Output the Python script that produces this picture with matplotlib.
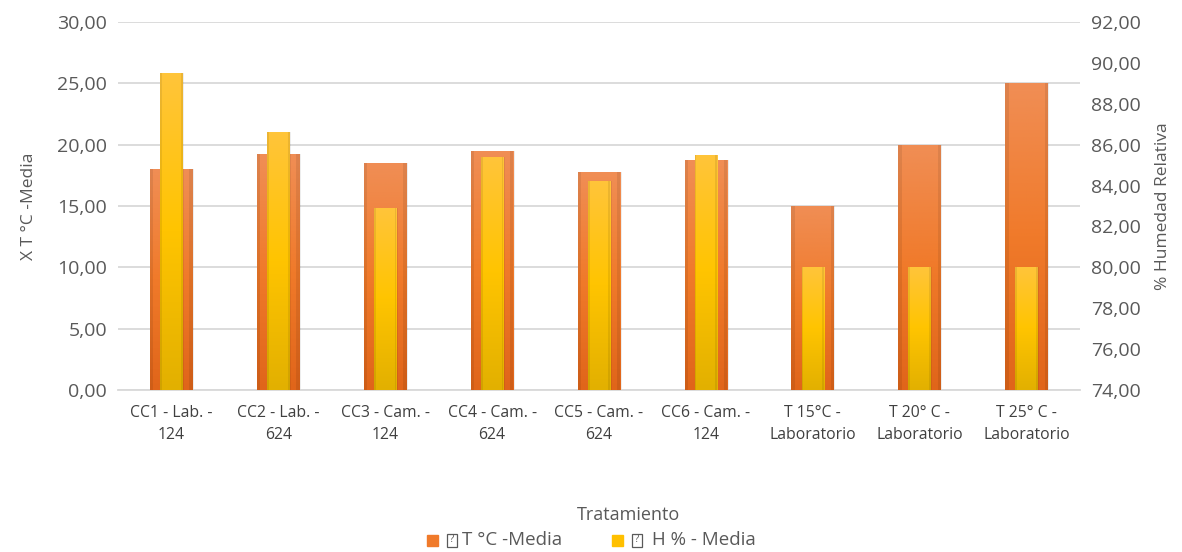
import numpy as np
import matplotlib.pyplot as plt
from matplotlib.colors import LinearSegmentedColormap
from matplotlib.ticker import FuncFormatter

plt.rcParams['font.family'] = ['Open Sans', 'DejaVu Sans']

categorias = ["CC1 - Lab. -\n124", "CC2 - Lab. -\n624", "CC3 - Cam. -\n124",
              "CC4 - Cam. -\n624", "CC5 - Cam. -\n624", "CC6 - Cam. -\n124",
              "T 15°C -\nLaboratorio", "T 20° C -\nLaboratorio", "T 25° C -\nLaboratorio"]
temp_media = [18.0, 19.2, 18.5, 19.5, 17.8, 18.75, 15.0, 20.0, 25.0]
hum_media = [89.5, 86.6, 82.9, 85.4, 84.2, 85.5, 80.0, 80.0, 80.0]

gris = '#595959'
naranja = LinearSegmentedColormap.from_list('nar', ['#E0651A', '#F07A2A', '#F08E55'])
amarillo = LinearSegmentedColormap.from_list('ama', ['#E2B000', '#FFC400', '#FFC53A'])


def barras_degradado(ax, x, alturas, base, ancho, cmap, z):
    bars = ax.bar(x, np.array(alturas) - base, width=ancho, bottom=base,
                  color='none', edgecolor='none', linewidth=0, zorder=z)
    grad = np.linspace(0, 1, 256).reshape(-1, 1)
    for b in bars:
        x0, y0 = b.get_x(), b.get_y()
        w, h = b.get_width(), b.get_height()
        # sombra suave a la derecha
        ax.bar(x0 + w / 2 + 0.012, h, width=w, bottom=y0, color='#000000',
               alpha=0.07, zorder=z - 1, edgecolor='none', linewidth=0)
        im = ax.imshow(grad, cmap=cmap, aspect='auto', origin='lower',
                       extent=(x0, x0 + w, y0, y0 + h), zorder=z)
        im.set_clip_path(b)
        # bordes laterales mas oscuros
        for xs in (x0 + w * 0.04, x0 + w * 0.96):
            ax.bar(xs, h, width=w * 0.08, bottom=y0, color='#000000',
                   alpha=0.08, zorder=z + 0.1, edgecolor='none', linewidth=0)
    return bars


fig = plt.figure(figsize=(11.82, 5.52), dpi=100)
ax = fig.add_axes([118 / 1182, 1 - 390 / 552, (1080 - 118) / 1182, 368 / 552])
ax2 = ax.twinx()

x = np.arange(len(categorias))
barras_degradado(ax, x, temp_media, 0, 0.40, naranja, 3)
barras_degradado(ax2, x, hum_media, 74, 0.21, amarillo, 3)

ax.set_xlim(-0.5, len(categorias) - 0.5)
ax.set_ylim(0, 30)
ax.set_yticks(np.arange(0, 30.1, 5))
ax2.set_ylim(74, 92)
ax2.set_yticks(np.arange(74, 92.1, 2))

coma = FuncFormatter(lambda v, p: f"{v:.2f}".replace('.', ','))
ax.yaxis.set_major_formatter(coma)
ax2.yaxis.set_major_formatter(coma)

ax.grid(axis='y', color='#D9D9D9', linewidth=1.3, zorder=0)
ax.set_axisbelow(True)
for a in (ax, ax2):
    for s in a.spines.values():
        s.set_visible(False)
    a.tick_params(length=0, colors=gris)
ax.spines['bottom'].set_visible(True)
ax.spines['bottom'].set_color('#D9D9D9')
ax.spines['bottom'].set_linewidth(1.3)
ax.tick_params(axis='y', labelsize=14, pad=8)
ax2.tick_params(axis='y', labelsize=14, pad=8)

ax.set_xticks(x)
ax.set_xticklabels(categorias, fontsize=11.3, color='#404040', linespacing=1.45)
ax.tick_params(axis='x', pad=11)

ax.set_ylabel("X T °C -Media", fontsize=12.5, color=gris, labelpad=14)
ax2.set_ylabel("% Humedad Relativa", fontsize=12.5, color=gris, labelpad=10)

fig.text(0.532, 1 - 515 / 552, "Tratamiento", ha='center', va='center',
         fontsize=13, color=gris)

# leyenda: cuadro de color, simbolo de caja con "?" y texto
ly = 1 - 540 / 552
W, H = 1182, 552
for xc, color, texto in [(427, '#F07A2A', "T °C -Media"),
                         (612, '#FFC000', " H % - Media")]:
    fig.patches.append(plt.Rectangle((xc / W, ly - 5.5 / H), 11 / W, 11 / H,
                                     transform=fig.transFigure, color=color))
    fig.patches.append(plt.Rectangle(((xc + 20) / W, ly - 6.5 / H), 10 / W, 13 / H,
                                     transform=fig.transFigure, fill=False,
                                     edgecolor=gris, linewidth=0.9))
    fig.text((xc + 25) / W, ly, "?", ha='center', va='center', fontsize=7,
             color=gris)
    fig.text((xc + 35) / W, ly, texto, va='center', fontsize=13.5, color=gris)

fig.savefig('out.png', dpi=100)
